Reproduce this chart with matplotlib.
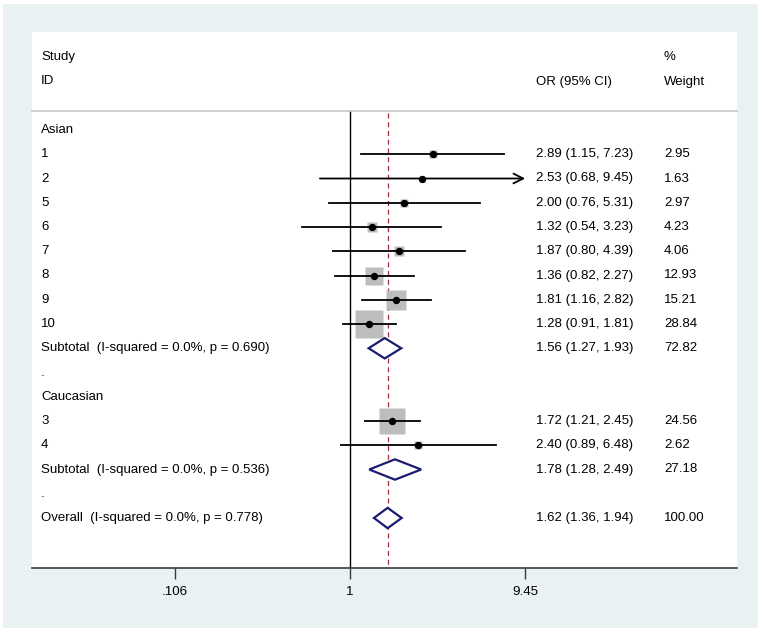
import numpy as np
import matplotlib
matplotlib.use("Agg")
import matplotlib.pyplot as plt
from matplotlib.patches import Polygon, Rectangle

plt.rcParams['font.family'] = ['Liberation Sans', 'DejaVu Sans']

# ---------------- data ----------------
asian_ids = ["1", "2", "5", "6", "7", "8", "9", "10"]
asian_or = [2.89, 2.53, 2.00, 1.32, 1.87, 1.36, 1.81, 1.28]
asian_lo = [1.15, 0.68, 0.76, 0.54, 0.80, 0.82, 1.16, 0.91]
asian_hi = [7.23, 9.45, 5.31, 3.23, 4.39, 2.27, 2.82, 1.81]
asian_w = [2.95, 1.63, 2.97, 4.23, 4.06, 12.93, 15.21, 28.84]

cauc_ids = ["3", "4"]
cauc_or = [1.72, 2.40]
cauc_lo = [1.21, 0.89]
cauc_hi = [2.45, 6.48]
cauc_w = [24.56, 2.62]

sub_labels = ["Subtotal  (I-squared = 0.0%, p = 0.690)",
              "Subtotal  (I-squared = 0.0%, p = 0.536)"]
sub_or = [1.56, 1.78]
sub_lo = [1.27, 1.28]
sub_hi = [1.93, 2.49]
sub_w = [72.82, 27.18]

overall_label = "Overall  (I-squared = 0.0%, p = 0.778)"
overall_or = 1.62
overall_lo = 1.36
overall_hi = 1.94
overall_w = 100.00

group_names = ["Asian", "Caucasian"]
xtick_vals = [0.106, 1, 9.45]
xtick_labels = [".106", "1", "9.45"]
axis_max = 9.45

# ---------------- layout ----------------
W, H = 763, 632
dpi = 100
fig = plt.figure(figsize=(W / dpi, H / dpi), dpi=dpi, facecolor="white")
bg = Rectangle((3 / W, 4 / H), 755 / W, 624 / H, transform=fig.transFigure,
               facecolor="#EAF1F3", edgecolor="none", zorder=-10)
fig.add_artist(bg)

left_px, right_px, top_px, bot_px = 32, 737, 32, 568
ax = fig.add_axes([left_px / W, 1 - bot_px / H, (right_px - left_px) / W, (bot_px - top_px) / H])
ax.set_zorder(1)
ax.set_facecolor("white")

x0_px, ppu = 350.0, 78.0          # pixel of OR=1, pixels per ln unit
row0_px, rstep = 130.0, 24.25      # pixel of first row, row spacing
ax.set_xlim((left_px - x0_px) / ppu, (right_px - x0_px) / ppu)
ax.set_ylim((bot_px - row0_px) / rstep, (top_px - row0_px) / rstep)

def xpx(px):
    return (px - x0_px) / ppu

for s in ["top", "right", "left"]:
    ax.spines[s].set_visible(False)
ax.spines["bottom"].set_color("#3a3a3a")
ax.spines["bottom"].set_linewidth(1.2)
ax.set_yticks([])
ax.set_xticks(np.log(xtick_vals))
ax.set_xticklabels(xtick_labels)
ax.tick_params(axis="x", length=8, width=1.0, color="#3a3a3a", pad=5, labelsize=9.6)

fs = 9.5
lab_x = xpx(41)
or_x = xpx(536)
w_x = xpx(664)

# headers
ax.text(lab_x, -3, "Study", fontsize=fs, va="center")
ax.text(lab_x, -2, "ID", fontsize=fs, va="center")
ax.text(or_x, -2, "OR (95% CI)", fontsize=fs, va="center")
ax.text(w_x, -3, "%", fontsize=fs, va="center")
ax.text(w_x, -2, "Weight", fontsize=fs, va="center")
sep_row = (111 - row0_px) / rstep
ax.plot(ax.get_xlim(), [sep_row, sep_row], color="#c8c8c8", lw=1.2, clip_on=False)

# reference lines
bottom_row = ax.get_ylim()[0]
ax.plot([0, 0], [sep_row + 0.04, bottom_row], color="black", lw=1.0)
ax.plot([np.log(overall_or)] * 2, [sep_row + 0.1, bottom_row], color="#A0303A", lw=0.9,
        dashes=(4, 3))

def fmt(e, l, h):
    return f"{e:.2f} ({l:.2f}, {h:.2f})"

def study(row, sid, e, l, h, w):
    ax.text(lab_x, row, sid, fontsize=fs, va="center")
    side_px = 5.21 * np.sqrt(w)
    ax.plot(np.log(e), row, marker="s", ms=side_px * 0.72, color="#BDBDBD", mec="none", zorder=2)
    hi_c = min(h, axis_max)
    if h >= axis_max:
        ax.annotate("", xy=(np.log(hi_c), row), xytext=(np.log(l), row),
                    arrowprops=dict(arrowstyle="->,head_length=0.7,head_width=0.35",
                                    color="black", lw=1.3, shrinkA=0, shrinkB=0), zorder=3)
    else:
        ax.plot([np.log(l), np.log(hi_c)], [row, row], color="black", lw=1.3, zorder=3)
    ax.plot(np.log(e), row, marker="o", ms=4.3, color="black", zorder=4)
    ax.text(or_x, row, fmt(e, l, h), fontsize=fs, va="center")
    ax.text(w_x, row, f"{w:.2f}", fontsize=fs, va="center")

def diamond(row, label, e, l, h, w):
    ax.text(lab_x, row, label, fontsize=fs, va="center")
    hh = 0.42
    pts = [(np.log(l), row), (np.log(e), row - hh), (np.log(h), row), (np.log(e), row + hh)]
    ax.add_patch(Polygon(pts, closed=True, facecolor="white", edgecolor="#1B1B72", lw=1.6, zorder=5))
    ax.text(or_x, row, fmt(e, l, h), fontsize=fs, va="center")
    ax.text(w_x, row, f"{w:.2f}", fontsize=fs, va="center")

row = 0
ax.text(lab_x, row, group_names[0], fontsize=fs, va="center")
for i in range(len(asian_ids)):
    row += 1
    study(row, asian_ids[i], asian_or[i], asian_lo[i], asian_hi[i], asian_w[i])
row += 1
diamond(row, sub_labels[0], sub_or[0], sub_lo[0], sub_hi[0], sub_w[0])
row += 1
ax.text(lab_x, row, ".", fontsize=fs, va="center")
row += 1
ax.text(lab_x, row, group_names[1], fontsize=fs, va="center")
for i in range(len(cauc_ids)):
    row += 1
    study(row, cauc_ids[i], cauc_or[i], cauc_lo[i], cauc_hi[i], cauc_w[i])
row += 1
diamond(row, sub_labels[1], sub_or[1], sub_lo[1], sub_hi[1], sub_w[1])
row += 1
ax.text(lab_x, row, ".", fontsize=fs, va="center")
row += 1
diamond(row, overall_label, overall_or, overall_lo, overall_hi, overall_w)

fig.savefig("out.png", dpi=dpi, facecolor=fig.get_facecolor())
